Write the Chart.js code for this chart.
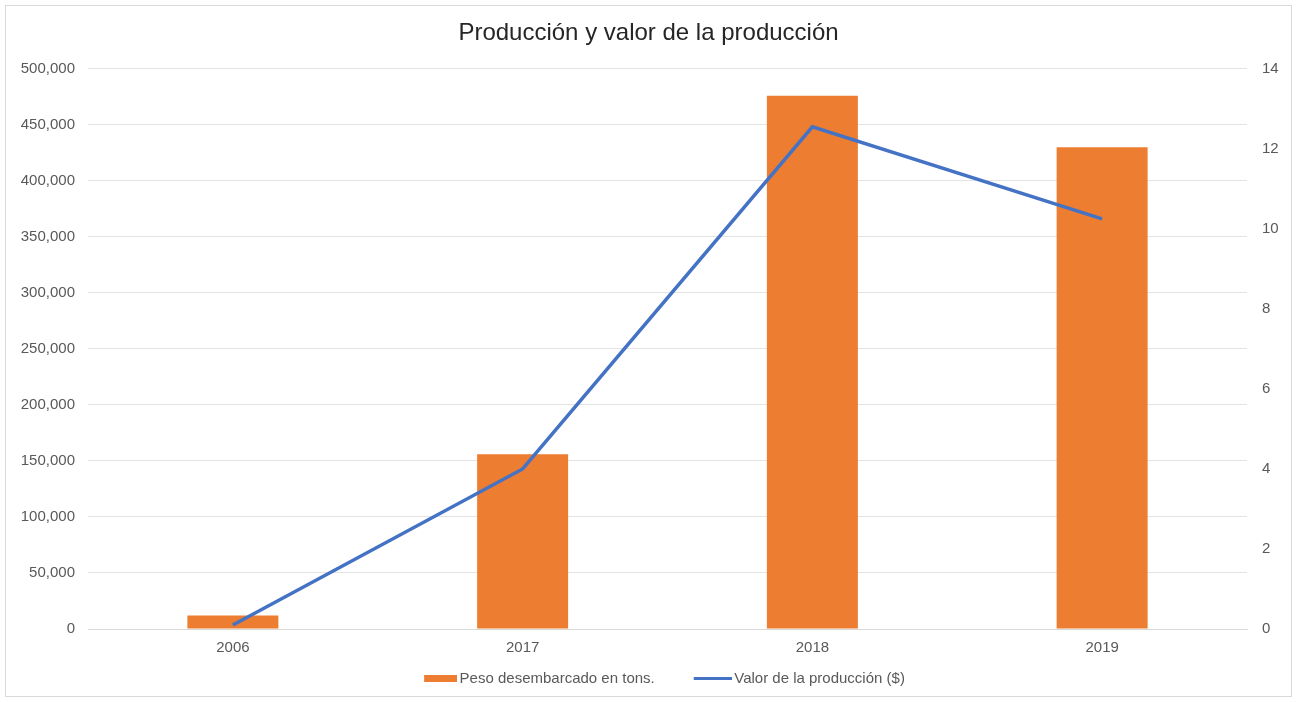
<!DOCTYPE html>
<html>
<head>
<meta charset="utf-8">
<script src="https://cdn.jsdelivr.net/npm/chart.js@4"></script>
<style>
  body { margin: 0; background: #fff; }
  #frame { position: absolute; left: 5px; top: 5px; width: 1285px; height: 690px; border: 1px solid #d9d9d9; }
  canvas { display: block; }
</style>
</head>
<body>
<div id="frame"><canvas id="chart" width="1285" height="690"></canvas></div>
<script>
const years = ['2006', '2017', '2018', '2019'];
const pesoTons = [12000, 156000, 476000, 430000];
const valorProduccion = [0.1, 4.0, 12.55, 10.25];

const fontFamily = '"Liberation Sans", Arial, sans-serif';
const tickColor = '#595959';
const gridColor = '#e3e3e3';

// legend icon, drawn at the right side of a wider transparent image
function legendImage(w, h, color) {
    const c = document.createElement('canvas');
    c.width = 70;
    c.height = h;
    const g = c.getContext('2d');
    g.fillStyle = color;
    g.fillRect(70 - w, 0, w, h);
    return c;
}

const legendIcons = [legendImage(33, 7, '#ed7d31'), legendImage(38, 3, '#4472c4')];

new Chart(document.getElementById('chart'), {
    data: {
        labels: years,
        datasets: [
            {
                type: 'line',
                label: 'Valor de la producción ($)',
                data: valorProduccion,
                yAxisID: 'y2',
                borderColor: '#4472c4',
                borderWidth: 3.5,
                pointRadius: 0,
                tension: 0,
                order: 0
            },
            {
                type: 'bar',
                label: 'Peso desembarcado en tons.',
                data: pesoTons,
                yAxisID: 'y',
                backgroundColor: '#ed7d31',
                categoryPercentage: 1,
                barPercentage: 0.314,
                order: 1
            }
        ]
    },
    options: {
        responsive: false,
        animation: false,
        layout: { padding: { top: 0, bottom: 0 } },
        plugins: {
            title: {
                display: true,
                text: 'Producción y valor de la producción',
                color: '#262626',
                font: { family: fontFamily, size: 24, weight: 'normal' },
                padding: { top: 13, bottom: 21 }
            },
            legend: {
                position: 'bottom',
                reverse: true,
                labels: {
                    color: tickColor,
                    font: { family: fontFamily, size: 15 },
                    usePointStyle: true,
                    pointStyleWidth: 60,
                    padding: 12,
                    generateLabels(chart) {
                        const items = Chart.defaults.plugins.legend.labels.generateLabels(chart);
                        items.forEach(it => {
                            it.pointStyle = legendIcons[it.datasetIndex === 1 ? 0 : 1];
                        });
                        return items;
                    }
                }
            },
            tooltip: { enabled: false }
        },
        scales: {
            x: {
                grid: { display: false },
                border: { color: '#d9d9d9' },
                ticks: { color: tickColor, font: { family: fontFamily, size: 15 }, padding: 2 }
            },
            y: {
                position: 'left',
                min: 0,
                max: 500000,
                afterFit(s) { s.width = 82; },
                grid: { color: gridColor, tickLength: 0 },
                border: { display: false },
                ticks: {
                    stepSize: 50000,
                    color: tickColor,
                    font: { family: fontFamily, size: 15 },
                    padding: 13,
                    callback: v => v.toLocaleString('en-US')
                }
            },
            y2: {
                position: 'right',
                min: 0,
                max: 14,
                afterFit(s) { s.width = 44; },
                grid: { display: false },
                border: { display: false },
                ticks: {
                    stepSize: 2,
                    color: tickColor,
                    font: { family: fontFamily, size: 15 },
                    padding: 7
                }
            }
        }
    }
});
</script>
</body>
</html>
